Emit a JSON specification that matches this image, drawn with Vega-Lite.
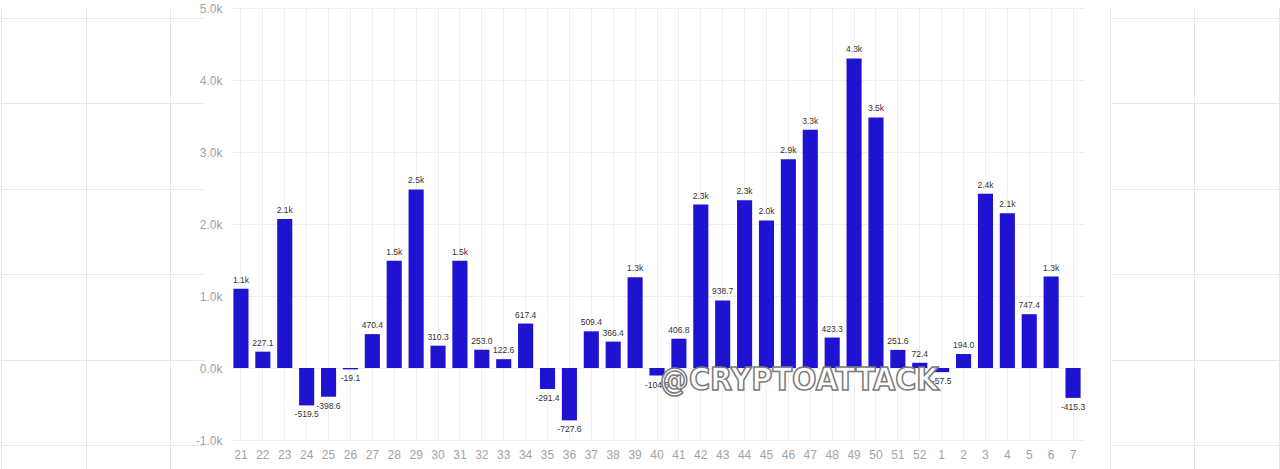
{
  "$schema": "https://vega.github.io/schema/vega-lite/v6.json",
  "autosize": {"type": "pad"},
  "padding": {"left": 0, "top": 2, "right": 0, "bottom": 0},
  "background": "#ffffff",
  "config": {
    "view": {"stroke": null},
    "font": "Liberation Sans"
  },
  "bounds": "flush",
  "spacing": 26,
  "hconcat": [
    {
      "width": 204,
      "height": 461,
      "data": {"values": [{"g": 0}]},
      "mark": {"type": "point", "opacity": 0, "size": 0},
      "encoding": {
        "x": {"field": "g", "type": "quantitative", "scale": {"domain": [-0.0118, 2.402], "nice": false, "zero": false},
          "axis": {"title": null, "labels": false, "ticks": false, "domain": false, "grid": true, "gridColor": "#e4e4e4", "values": [0, 1, 2]}},
        "y": {"field": "g", "type": "quantitative", "scale": {"domain": [-0.281, 5.117], "nice": false, "zero": false},
          "axis": {"title": null, "labels": false, "ticks": false, "domain": false, "grid": true, "gridColor": "#e8e8e8", "values": [0, 1, 2, 3, 4, 5]}}
      }
    },
    {
      "width": 854,
      "height": 432,
      "data": {
        "values": [
          {"week": "21", "value": 1100},
          {"week": "22", "value": 227.1},
          {"week": "23", "value": 2070},
          {"week": "24", "value": -519.5},
          {"week": "25", "value": -398.6},
          {"week": "26", "value": -19.1},
          {"week": "27", "value": 470.4},
          {"week": "28", "value": 1490},
          {"week": "29", "value": 2480},
          {"week": "30", "value": 310.3},
          {"week": "31", "value": 1490},
          {"week": "32", "value": 253.0},
          {"week": "33", "value": 122.6},
          {"week": "34", "value": 617.4},
          {"week": "35", "value": -291.4},
          {"week": "36", "value": -727.6},
          {"week": "37", "value": 509.4},
          {"week": "38", "value": 366.4},
          {"week": "39", "value": 1260},
          {"week": "40", "value": -104.6},
          {"week": "41", "value": 406.8},
          {"week": "42", "value": 2270},
          {"week": "43", "value": 938.7},
          {"week": "44", "value": 2330},
          {"week": "45", "value": 2050},
          {"week": "46", "value": 2900},
          {"week": "47", "value": 3310},
          {"week": "48", "value": 423.3},
          {"week": "49", "value": 4300},
          {"week": "50", "value": 3480},
          {"week": "51", "value": 251.6},
          {"week": "52", "value": 72.4},
          {"week": "1", "value": -57.5},
          {"week": "2", "value": 194.0},
          {"week": "3", "value": 2420},
          {"week": "4", "value": 2150},
          {"week": "5", "value": 747.4},
          {"week": "6", "value": 1270},
          {"week": "7", "value": -415.3}
        ]
      },
      "transform": [
        {"calculate": "replace(abs(datum.value) >= 1000 ? format(datum.value/1000, '.1f') + 'k' : format(datum.value, '.1f'), '\u2212', '-')", "as": "label"}
      ],
      "encoding": {
        "x": {
          "field": "week", "type": "ordinal", "sort": null,
          "scale": {"paddingInner": 0.31, "paddingOuter": 0.155},
          "axis": {
            "title": null, "labelAngle": 0, "domain": false, "ticks": false,
            "grid": true, "gridColor": "#efefef", "gridWidth": 1, "bandPosition": 0.5,
            "labelColor": "#a3a3a3", "labelFontSize": 12, "labelPadding": 9
          }
        },
        "y": {
          "field": "value", "type": "quantitative",
          "scale": {"domain": [-1000, 5000], "nice": false},
          "axis": {
            "title": null, "domain": false, "ticks": false,
            "values": [-1000, 0, 1000, 2000, 3000, 4000, 5000],
            "labelExpr": "replace(format(datum.value/1000, '.1f'), '\u2212', '-') + 'k'",
            "grid": true, "gridColor": "#efefef", "gridWidth": 1,
            "labelColor": "#a3a3a3", "labelFontSize": 12, "labelPadding": 8
          }
        }
      },
      "layer": [
        {"mark": {"type": "bar", "color": "#1e13d1"}},
        {
          "transform": [{"filter": "datum.value >= 0"}],
          "mark": {"type": "text", "fontSize": 8.5, "color": "#333333", "baseline": "bottom", "dy": -4},
          "encoding": {"text": {"field": "label"}}
        },
        {
          "transform": [{"filter": "datum.value < 0"}],
          "mark": {"type": "text", "fontSize": 8.5, "color": "#333333", "baseline": "top", "dy": 5},
          "encoding": {"text": {"field": "label"}}
        },
        {
          "data": {"values": [{"week": "46", "value": -170, "label": "@CRYPTOATTACK"}]},
          "mark": {"type": "text", "font": "DejaVu Sans Condensed", "fontWeight": "bold", "fontSize": 32, "fill": "#ffffff", "fillOpacity": 0.75, "stroke": "#7a7a7a", "strokeWidth": 1.5, "dx": 11, "baseline": "middle"},
          "encoding": {"text": {"field": "label"}}
        }
      ]
    },
    {
      "width": 170,
      "height": 461,
      "data": {"values": [{"g": 0}]},
      "mark": {"type": "point", "opacity": 0, "size": 0},
      "encoding": {
        "x": {"field": "g", "type": "quantitative", "scale": {"domain": [0, 2.012], "nice": false, "zero": false},
          "axis": {"title": null, "labels": false, "ticks": false, "domain": false, "grid": true, "gridColor": "#e4e4e4", "values": [0, 1, 2]}},
        "y": {"field": "g", "type": "quantitative", "scale": {"domain": [-0.281, 5.117], "nice": false, "zero": false},
          "axis": {"title": null, "labels": false, "ticks": false, "domain": false, "grid": true, "gridColor": "#e8e8e8", "values": [0, 1, 2, 3, 4, 5]}}
      }
    }
  ]
}
